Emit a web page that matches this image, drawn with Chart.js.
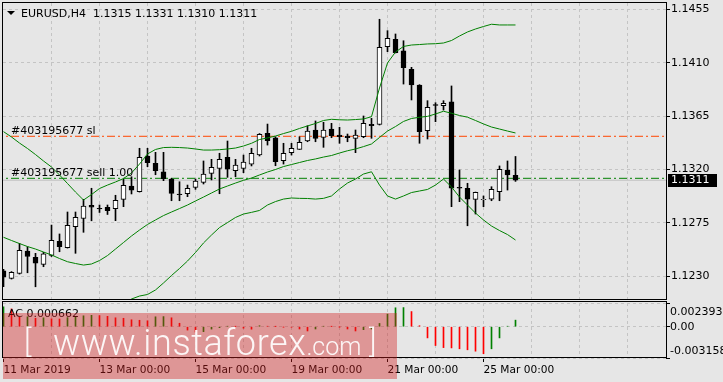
<!DOCTYPE html>
<html lang="en">
<head>
    <meta charset="UTF-8">
    <title>EURUSD,H4</title>
    <style>
        body {
            margin: 0;
            background: #e6e6e6;
            font-family: "DejaVu Sans", sans-serif;
        }
        .wrap {
            position: relative;
            width: 723px;
            height: 382px;
            overflow: hidden;
        }
        #mainChart { position: absolute; left: 0; top: 0; }
        #acChart { position: absolute; left: 0; top: 301px; }
        .watermark {
            position: absolute;
            left: 3px;
            top: 313px;
            width: 394px;
            height: 66px;
            background: rgba(210, 30, 30, 0.4);
            color: rgba(255, 255, 255, 0.92);
            font-family: Roboto, "Open Sans", sans-serif;
            font-weight: 300;
            line-height: 1;
            white-space: nowrap;
        }
        .watermark span { position: absolute; }
        .watermark .br { font-size: 31px; top: 13px; }
        .watermark .url { left: 50px; top: 12px; font-size: 36px; letter-spacing: 0.6px; }
        .watermark .url small { font-size: 25px; letter-spacing: 0; }
    </style>
    <script src="https://cdn.jsdelivr.net/npm/chart.js"></script>
</head>
<body>
<div class="wrap">
    <canvas id="mainChart" width="723" height="301"></canvas>
    <canvas id="acChart" width="723" height="81"></canvas>
    <div class="watermark">
        <span class="br" style="left:21px">[</span>
        <span class="url">www.instaforex<small>.com</small></span>
        <span class="br" style="left:366px">]</span>
    </div>
</div>
<script>
    // EURUSD H4, 11 Mar 2019 00:00 .. 25 Mar 2019 16:00 (bar index 0..64)
    const symbol = 'EURUSD,H4';
    const opens = [1.12347, 1.12283, 1.12324, 1.12513, 1.12460, 1.12401, 1.12477, 1.12595, 1.12541, 1.12718,
        1.12787, 1.12898, 1.12873, 1.12882, 1.12870, 1.12949, 1.13061, 1.13013, 1.13314, 1.13252,
        1.13181, 1.13120, 1.12994, 1.12996, 1.13050, 1.13092, 1.13168, 1.13210, 1.13303, 1.13190,
        1.13210, 1.13246, 1.13322, 1.13505, 1.13468, 1.13274, 1.13342, 1.13370, 1.13440, 1.13533,
        1.13471, 1.13541, 1.13491, 1.13482, 1.13463, 1.13476, 1.13581, 1.13581, 1.14235, 1.14297,
        1.14199, 1.14044, 1.13912, 1.13527, 1.13748, 1.13738, 1.13771, 1.13050, 1.13042, 1.12949,
        1.12945, 1.12951, 1.13013, 1.13196, 1.13150];
    const highs = [1.12359, 1.12340, 1.12578, 1.12549, 1.12494, 1.12502, 1.12732, 1.12657, 1.12842, 1.12842,
        1.12949, 1.13042, 1.12901, 1.12901, 1.12983, 1.13117, 1.13139, 1.13379, 1.13379, 1.13345,
        1.13345, 1.13126, 1.13097, 1.13069, 1.13120, 1.13272, 1.13286, 1.13337, 1.13440, 1.13286,
        1.13322, 1.13379, 1.13503, 1.13583, 1.13476, 1.13421, 1.13421, 1.13476, 1.13569, 1.13609,
        1.13598, 1.13589, 1.13556, 1.13499, 1.13533, 1.13651, 1.13631, 1.14466, 1.14370, 1.14342,
        1.14285, 1.14061, 1.13915, 1.13780, 1.13763, 1.13780, 1.13904, 1.13196, 1.13084, 1.13010,
        1.12977, 1.13055, 1.13230, 1.13272, 1.13310];
    const lows = [1.12212, 1.12277, 1.12319, 1.12330, 1.12212, 1.12381, 1.12467, 1.12507, 1.12538, 1.12494,
        1.12671, 1.12768, 1.12838, 1.12821, 1.12769, 1.12887, 1.12994, 1.13010, 1.13224, 1.13156,
        1.13106, 1.12937, 1.12937, 1.12971, 1.13033, 1.13078, 1.13112, 1.12996, 1.13134, 1.13139,
        1.13173, 1.13230, 1.13314, 1.13406, 1.13232, 1.13246, 1.13322, 1.13369, 1.13434, 1.13434,
        1.13387, 1.13468, 1.13421, 1.13434, 1.13342, 1.13468, 1.13463, 1.13575, 1.14193, 1.14182,
        1.13920, 1.13786, 1.13421, 1.13457, 1.13603, 1.13701, 1.12887, 1.12929, 1.12726, 1.12825,
        1.12887, 1.12937, 1.12937, 1.13027, 1.13100];
    const closes = [1.12292, 1.12334, 1.12519, 1.12467, 1.12410, 1.12490, 1.12603, 1.12549, 1.12730, 1.12797,
        1.12892, 1.12882, 1.12867, 1.12853, 1.12940, 1.13067, 1.13027, 1.13303, 1.13257, 1.13190,
        1.13122, 1.12999, 1.12989, 1.13042, 1.13103, 1.13162, 1.13219, 1.13286, 1.13202, 1.13238,
        1.13263, 1.13337, 1.13497, 1.13443, 1.13266, 1.13337, 1.13379, 1.13429, 1.13524, 1.13463,
        1.13533, 1.13485, 1.13476, 1.13468, 1.13491, 1.13589, 1.13569, 1.14230, 1.14306, 1.14184,
        1.14058, 1.13912, 1.13519, 1.13724, 1.13739, 1.13758, 1.13042, 1.13042, 1.12951, 1.13008,
        1.12949, 1.13033, 1.13202, 1.13154, 1.13110];

    // Bollinger bands
    const upperBand = [1.13519, 1.13474, 1.13423, 1.13377, 1.13326, 1.13272, 1.13221, 1.13154, 1.13082, 1.13010,
        1.12943, 1.12989, 1.13040, 1.13069, 1.13095, 1.13124, 1.13171, 1.13246, 1.13331, 1.13369,
        1.13385, 1.13387, 1.13385, 1.13381, 1.13373, 1.13364, 1.13364, 1.13367, 1.13373, 1.13381,
        1.13398, 1.13421, 1.13453, 1.13466, 1.13482, 1.13503, 1.13522, 1.13546, 1.13567, 1.13588,
        1.13613, 1.13623, 1.13619, 1.13617, 1.13621, 1.13626, 1.13645, 1.13887, 1.14098, 1.14190,
        1.14237, 1.14249, 1.14253, 1.14258, 1.14260, 1.14266, 1.14287, 1.14325, 1.14359, 1.14384,
        1.14405, 1.14424, 1.14418, 1.14418, 1.14418];
    const middleBand = [1.12629, 1.12602, 1.12576, 1.12551, 1.12530, 1.12505, 1.12480, 1.12450, 1.12423, 1.12408,
        1.12395, 1.12404, 1.12433, 1.12475, 1.12530, 1.12585, 1.12640, 1.12690, 1.12737, 1.12775,
        1.12812, 1.12842, 1.12871, 1.12901, 1.12935, 1.12968, 1.13002, 1.13036, 1.13061, 1.13086,
        1.13109, 1.13128, 1.13154, 1.13179, 1.13200, 1.13225, 1.13242, 1.13259, 1.13276, 1.13289,
        1.13305, 1.13318, 1.13339, 1.13358, 1.13373, 1.13393, 1.13415, 1.13470, 1.13524, 1.13562,
        1.13605, 1.13630, 1.13640, 1.13648, 1.13668, 1.13691, 1.13674, 1.13655, 1.13641, 1.13613,
        1.13584, 1.13558, 1.13541, 1.13524, 1.13508];
    const lowerBand = [1.11738, 1.11730, 1.11730, 1.11721, 1.11730, 1.11738, 1.11738, 1.11746, 1.11763, 1.11805,
        1.11848, 1.11818, 1.11826, 1.11881, 1.11966, 1.12046, 1.12109, 1.12134, 1.12147, 1.12185,
        1.12244, 1.12307, 1.12366, 1.12429, 1.12501, 1.12581, 1.12648, 1.12711, 1.12753, 1.12796,
        1.12825, 1.12839, 1.12855, 1.12901, 1.12930, 1.12951, 1.12960, 1.12957, 1.12956, 1.12951,
        1.12957, 1.12977, 1.13036, 1.13086, 1.13120, 1.13162, 1.13181, 1.13069, 1.12977, 1.12951,
        1.12977, 1.13006, 1.13019, 1.13032, 1.13069, 1.13120, 1.13053, 1.12968, 1.12901, 1.12833,
        1.12775, 1.12724, 1.12686, 1.12652, 1.12606];

    // Accelerator Oscillator
    const acValues = [0.00200, 0.00180, 0.00095, 0.00100, 0.00085, 0.00090, 0.00080, 0.00078, 0.00092, 0.00100,
        0.00110, 0.00115, 0.00112, 0.00105, 0.00090, 0.00085, 0.00070, 0.00065, 0.00060, 0.00100,
        0.00102, 0.00090, 0.00035, -0.00034, -0.00054, -0.00050, -0.00024, -0.00010, 0.00005, 0.00002,
        -0.00015, -0.00025, 0.00010, 0.00005, 0.00002, -0.00003, -0.00005, -0.00023, -0.00043, -0.00023,
        0.00005, 0.00002, -0.00001, -0.00023, -0.00043, -0.00030, -0.00023, 0.00033, 0.00127, 0.00191,
        0.00193, 0.00153, 0.00010, -0.00113, -0.00190, -0.00211, -0.00214, -0.00223, -0.00233, -0.00247,
        -0.00273, -0.00223, -0.00113, 0.00005, 0.000662];
    const acMax = 0.002393;
    const acMin = -0.003158;
    const acTickLabels = ['0.002393', '0.00', '-0.003158'];

    // axes
    const priceTicks = [1.1230, 1.1275, 1.1320, 1.1365, 1.1410, 1.1455];
    const priceMin = 1.12109;
    const priceMax = 1.14603;
    const xMin = -0.0625;
    const xMax = 82.8125;
    const gridBars = [6, 12, 18, 24, 30, 36, 42, 48, 54, 60, 66, 72, 78];
    const timeLabelBars = [0, 12, 24, 36, 48, 60];
    const timeLabels = ['11 Mar 2019', '13 Mar 00:00', '15 Mar 00:00', '19 Mar 00:00', '21 Mar 00:00', '25 Mar 00:00'];

    // open order
    const orderTicket = 403195677;
    const orderLots = '1.00';
    const sellPrice = 1.13126;
    const slPrice = 1.13480;

    const FONT = '"DejaVu Sans", sans-serif';
    const GRID = '#c4c4c4';
    Chart.defaults.font.family = FONT;
    Chart.defaults.font.size = 11;
    Chart.defaults.color = '#000';

    const n = closes.length;
    const idx = closes.map((_, i) => i);
    const last = n - 1;

    function hLine(price, color, dash) {
        return {
            type: 'line',
            data: [{ x: xMin - 1, y: price }, { x: xMax + 1, y: price }],
            borderColor: color,
            borderWidth: 1,
            borderDash: dash,
            pointRadius: 0,
            order: 4
        };
    }

    function bandLine(values) {
        return {
            type: 'line',
            data: values.map((v, i) => ({ x: i, y: v })),
            borderColor: '#008000',
            borderWidth: 1,
            pointRadius: 0,
            tension: 0,
            order: 1
        };
    }

    const mainOverlay = {
        id: 'mainOverlay',
        afterDraw(chart) {
            const ctx = chart.ctx;
            const a = chart.chartArea;
            const y = chart.scales.y;
            ctx.save();
            ctx.strokeStyle = '#000';
            ctx.lineWidth = 1;
            ctx.strokeRect(a.left - 0.5, a.top - 0.5, a.right - a.left + 1, a.bottom - a.top + 1);

            // title
            ctx.fillStyle = '#000';
            ctx.beginPath();
            ctx.moveTo(7, 11); ctx.lineTo(15, 11); ctx.lineTo(11, 15); ctx.closePath();
            ctx.fill();
            ctx.font = '11px ' + FONT;
            ctx.textBaseline = 'alphabetic';
            const ohlc = [opens[last], highs[last], lows[last], closes[last]].map(v => v.toFixed(4)).join(' ');
            ctx.fillText(symbol + '  ' + ohlc, 21, 16.5);

            // order labels
            ctx.fillText('#' + orderTicket + ' sl', 11, y.getPixelForValue(slPrice) - 2.5);
            ctx.fillText('#' + orderTicket + ' sell ' + orderLots, 11, y.getPixelForValue(sellPrice) - 2.5);

            // current price marker
            const py = Math.round(y.getPixelForValue(closes[last]));
            ctx.fillRect(668, py - 6, 49, 13);
            ctx.fillStyle = '#fff';
            ctx.textBaseline = 'middle';
            ctx.fillText(closes[last].toFixed(4), 671, py + 0.5);
            ctx.restore();
        }
    };

    new Chart(document.getElementById('mainChart'), {
        type: 'bar',
        data: {
            datasets: [
                bandLine(upperBand),
                bandLine(middleBand),
                bandLine(lowerBand),
                {
                    data: idx.map(i => ({ x: i, y: [opens[i], closes[i]] })),
                    backgroundColor: idx.map(i => closes[i] >= opens[i] ? '#fff' : '#000'),
                    borderColor: '#000',
                    borderWidth: 1,
                    borderSkipped: false,
                    barThickness: 5,
                    grouped: false,
                    order: 2
                },
                {
                    data: idx.map(i => ({ x: i, y: [lows[i], highs[i]] })),
                    backgroundColor: '#000',
                    borderWidth: 0,
                    barThickness: 1,
                    grouped: false,
                    order: 3
                },
                hLine(closes[last], '#c0c0c0', []),
                hLine(slPrice, '#ff4500', [8, 3, 2, 3]),
                hLine(sellPrice, '#008000', [8, 3, 2, 3])
            ]
        },
        options: {
            responsive: false,
            animation: false,
            devicePixelRatio: 1,
            layout: { padding: { left: 3, top: 3, right: 0, bottom: 2 } },
            plugins: { legend: { display: false }, tooltip: { enabled: false } },
            scales: {
                x: {
                    type: 'linear',
                    min: xMin,
                    max: xMax,
                    offset: false,
                    afterBuildTicks: s => { s.ticks = gridBars.map(v => ({ value: v })); },
                    afterFit: s => { s.height = 0; s.paddingLeft = 0; s.paddingRight = 0; },
                    ticks: { display: false },
                    grid: { color: GRID, drawTicks: false, offset: false },
                    border: { display: false, dash: [3, 3] }
                },
                y: {
                    position: 'right',
                    min: priceMin,
                    max: priceMax,
                    afterBuildTicks: s => { s.ticks = priceTicks.map(v => ({ value: v })); },
                    afterFit: s => { s.width = 57; s.paddingTop = 0; s.paddingBottom = 0; },
                    ticks: { padding: 1, callback: v => v.toFixed(4) },
                    grid: { color: GRID, tickColor: '#000', tickLength: 4, tickBorderDash: [] },
                    border: { display: false, dash: [3, 3] }
                }
            }
        },
        plugins: [mainOverlay]
    });

    const acOverlay = {
        id: 'acOverlay',
        afterDraw(chart) {
            const ctx = chart.ctx;
            const a = chart.chartArea;
            const y = chart.scales.y;
            ctx.save();
            ctx.strokeStyle = '#000';
            ctx.lineWidth = 1;
            ctx.strokeRect(a.left - 0.5, a.top - 1.5, a.right - a.left + 1, a.bottom - a.top + 1);
            ctx.fillStyle = '#000';
            ctx.font = '11px ' + FONT;
            ctx.textBaseline = 'alphabetic';
            ctx.fillText('AC ' + acValues[last].toFixed(6), 8, 16);
            ctx.textBaseline = 'middle';
            [acMax, 0, acMin].forEach((v, i) => {
                const py = Math.min(Math.max(y.getPixelForValue(v), a.top + 9), a.bottom - 6.5);
                ctx.fillText(acTickLabels[i], 670, py);
            });
            ctx.restore();
        }
    };

    new Chart(document.getElementById('acChart'), {
        type: 'bar',
        data: {
            datasets: [{
                data: idx.map(i => ({ x: i, y: acValues[i] })),
                backgroundColor: idx.map(i => (i === 0 || acValues[i] > acValues[i - 1]) ? '#008000' : '#ff0000'),
                borderWidth: 0,
                barThickness: 1,
                grouped: false
            }]
        },
        options: {
            responsive: false,
            animation: false,
            devicePixelRatio: 1,
            layout: { padding: { left: 3, top: 2, right: 0, bottom: 0 } },
            plugins: { legend: { display: false }, tooltip: { enabled: false } },
            scales: {
                x: {
                    type: 'linear',
                    min: xMin,
                    max: xMax,
                    offset: false,
                    afterBuildTicks: s => { s.ticks = gridBars.map(v => ({ value: v })); },
                    afterFit: s => { s.height = 0; s.paddingLeft = 0; s.paddingRight = 0; },
                    ticks: { display: false },
                    grid: { color: GRID, drawTicks: false, offset: false },
                    border: { display: false, dash: [3, 3] }
                },
                xl: {
                    type: 'linear',
                    axis: 'x',
                    position: 'bottom',
                    min: xMin,
                    max: xMax,
                    offset: false,
                    afterBuildTicks: s => { s.ticks = timeLabelBars.map(v => ({ value: v })); },
                    afterFit: s => { s.height = 24; s.paddingLeft = 0; s.paddingRight = 0; },
                    ticks: {
                        autoSkip: false,
                        maxRotation: 0,
                        align: 'start',
                        padding: 2,
                        font: { size: 10.6 },
                        callback: (v, i) => timeLabels[i]
                    },
                    grid: { drawOnChartArea: false, tickColor: '#000', tickLength: 4, offset: false },
                    border: { display: false }
                },
                y: {
                    position: 'right',
                    min: acMin,
                    max: acMax,
                    afterBuildTicks: s => { s.ticks = [acMax, 0, acMin].map(v => ({ value: v })); },
                    afterFit: s => { s.width = 57; s.paddingTop = 0; s.paddingBottom = 0; },
                    ticks: { display: false },
                    grid: { color: GRID, tickColor: '#000', tickLength: 4, tickBorderDash: [] },
                    border: { display: false, dash: [3, 3] }
                }
            }
        },
        plugins: [acOverlay]
    });
</script>
</body>
</html>
